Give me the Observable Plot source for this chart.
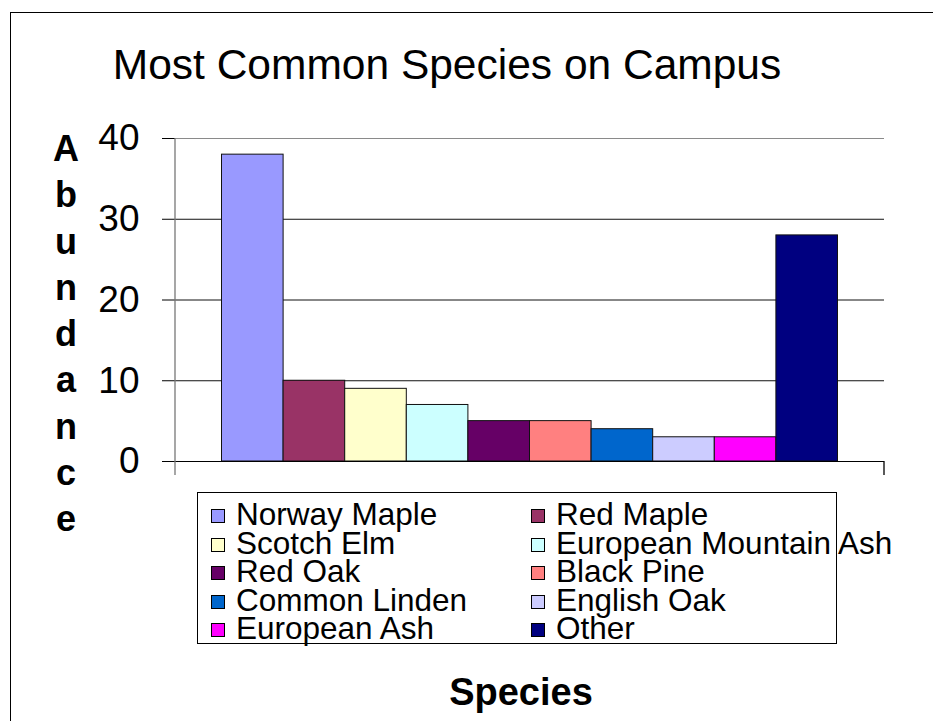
<!DOCTYPE html>
<html>
<head>
<meta charset="utf-8">
<script src="https://cdn.jsdelivr.net/npm/d3@7"></script>
<script src="https://cdn.jsdelivr.net/npm/@observablehq/plot@0.6"></script>
<style>
  html, body { margin: 0; padding: 0; background: #fff; }
  #page { position: relative; width: 933px; height: 721px; overflow: hidden; font-family: "Liberation Sans", Arial, sans-serif; color: #000; }
  #border { position: absolute; left: 10px; top: 12px; width: 2000px; height: 2000px; border-left: 1px solid #000; border-top: 1px solid #000; }
  #chart { position: absolute; left: 0; top: 0; }
  #title { position: absolute; left: 0; width: 894px; top: 44px; text-align: center; font-size: 42.5px; line-height: 42.5px; white-space: nowrap; }
  #ylabel { position: absolute; left: 46px; width: 40px; top: 126px; text-align: center; font-size: 36px; font-weight: bold; line-height: 46.25px; }
  #xlabel { position: absolute; left: 0; width: 1042px; top: 673px; text-align: center; font-size: 38px; font-weight: bold; line-height: 38px; }
  #legendBox { position: absolute; left: 197px; top: 492px; width: 638px; height: 150px; border: 1px solid #000; }
  #legend { position: absolute; left: 211px; top: 500px; display: grid; grid-template-columns: 320px 320px; }
  .item { position: relative; height: 28.5px; line-height: 28.5px; font-size: 31.5px; padding-left: 25px; white-space: nowrap; }
  .sw { position: absolute; left: 0; top: 9px; width: 12px; height: 12px; border: 1px solid #000; }
</style>
</head>
<body>
<div id="page">
  <div id="border"></div>
  <div id="chart"></div>
  <div id="title">Most Common Species on Campus</div>
  <div id="ylabel"></div>
  <div id="xlabel">Species</div>
  <div id="legendBox"></div>
  <div id="legend"></div>
</div>
<script>
const species = ["Norway Maple", "Red Maple", "Scotch Elm", "European Mountain Ash", "Red Oak",
                 "Black Pine", "Common Linden", "English Oak", "European Ash", "Other"];
const abundance = [38, 10, 9, 7, 5, 5, 4, 3, 3, 28];
const colors = ["#9999FF", "#993366", "#FFFFCC", "#CCFFFF", "#660066",
                "#FF8080", "#0066CC", "#CCCCFF", "#FF00FF", "#000080"];
const yTicks = [0, 10, 20, 30, 40];
const yLabelText = "Abundance";

const data = species.map((s, i) => ({species: s, value: abundance[i]}));

const chart = Plot.plot({
  width: 933,
  height: 721,
  marginLeft: 175,
  marginRight: 49,
  marginTop: 138,
  marginBottom: 260,
  style: {background: "transparent", fontFamily: "'Liberation Sans', Arial, sans-serif", color: "#000"},
  x: {domain: species, paddingInner: 0, paddingOuter: 0.755, round: false, axis: null},
  y: {domain: [0, 40], ticks: yTicks},
  color: {domain: species, range: colors},
  marks: [
    Plot.gridY(yTicks.filter(d => d > 0 && d < 40), {stroke: "#111", strokeOpacity: 1, strokeWidth: 1}),
    Plot.gridY([40], {stroke: "#8a8a8a", strokeOpacity: 1, strokeWidth: 1}),
    Plot.axisY({ticks: yTicks, tickSize: 13, tickPadding: 23, fontSize: 37, label: null, tickFormat: d => String(d)}),
    Plot.barY(data, {x: "species", y: "value", fill: "species", stroke: "#111", strokeWidth: 1}),
    Plot.ruleY([0], {stroke: "#000", strokeWidth: 1})
  ]
});
document.getElementById("chart").appendChild(chart);

// axis line and category-boundary ticks from the plot's own scales
const xs = chart.scale("x").range;
const ys = chart.scale("y");
const y0 = ys.apply(0), yTop = ys.apply(40);
const svg = d3.select(chart);
svg.append("line").attr("x1", xs[0]).attr("x2", xs[0]).attr("y1", yTop).attr("y2", y0 + 14)
  .attr("stroke", "#777").attr("stroke-width", 1.3);
svg.append("line").attr("x1", xs[1]).attr("x2", xs[1]).attr("y1", y0).attr("y2", y0 + 14)
  .attr("stroke", "#000").attr("stroke-width", 1.3);

// stacked y label
document.getElementById("ylabel").innerHTML = yLabelText.split("").map(c => `<div>${c}</div>`).join("");

// legend from the color scale
const color = chart.scale("color");
const legend = document.getElementById("legend");
species.forEach(s => {
  const item = document.createElement("div");
  item.className = "item";
  const sw = document.createElement("span");
  sw.className = "sw";
  sw.style.background = color.apply(s);
  item.appendChild(sw);
  item.appendChild(document.createTextNode(s));
  legend.appendChild(item);
});
</script>
</body>
</html>
